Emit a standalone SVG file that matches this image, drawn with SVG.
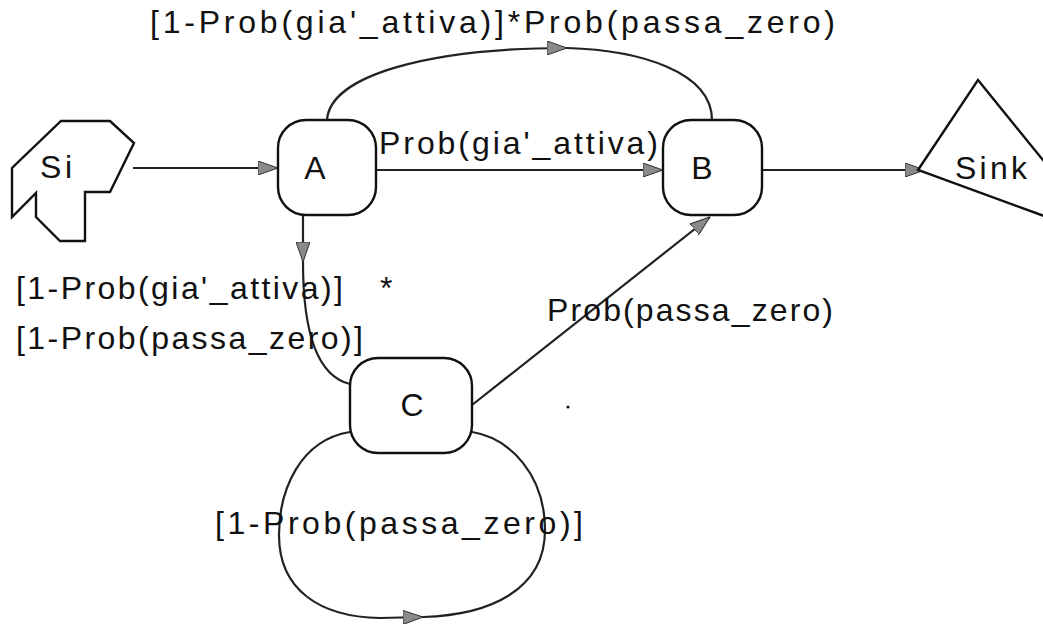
<svg xmlns="http://www.w3.org/2000/svg" width="1043" height="625" viewBox="0 0 1043 625">
<defs>
<style>
.n{fill:#fff;stroke:#111;stroke-width:2.4}
.c{fill:none;stroke:#222;stroke-width:2.2}
text{font-family:"Liberation Sans",Arial,sans-serif;font-size:32px;fill:#111}
</style>
<marker id="ah" viewBox="0 0 20 14" refX="20" refY="7" markerWidth="20" markerHeight="14" markerUnits="userSpaceOnUse" orient="auto">
<path d="M0,0 L20,7 L0,14 z" fill="#8a8a8a" stroke="#333" stroke-width="1"/>
</marker>
</defs>
<rect width="1043" height="625" fill="#fff"/>
<g id="connectors">
<path class="c" d="M133,168 L278,168" marker-end="url(#ah)"/>
<path class="c" d="M376,170 L663,170" marker-end="url(#ah)"/>
<path class="c" d="M327,120 C330,75 430,48 567,48" marker-end="url(#ah)"/>
<path class="c" d="M567,48 C640,50 712,72 712,120"/>
<path class="c" d="M762,170 L925,170" marker-end="url(#ah)"/>
<path class="c" d="M303,215 L303,262" marker-end="url(#ah)"/>
<path class="c" d="M303,262 C303,320 312,375 350,384"/>
<path class="c" d="M472,405 L710,217" marker-end="url(#ah)"/>
<path class="c" d="M350,432 C300,440 279,490 279,535 C279,590 320,617 380,618 L423,617" marker-end="url(#ah)"/>
<path class="c" d="M423,617 C490,615 545,590 545,530 C545,475 510,438 472,432"/>
</g>
<g id="Si">
<polygon class="n" points="61,121 110,121 134,143 110,192 85,192 85,241 60,241 36,217 36,193 12,217 12,168"/>
<text x="40" y="178" textLength="32" lengthAdjust="spacing">Si</text>
</g>
<g id="A">
<rect class="n" x="278" y="120" width="98" height="95" rx="28"/>
<text x="315" y="179" text-anchor="middle">A</text>
</g>
<g id="B">
<rect class="n" x="663" y="120" width="99" height="95" rx="28"/>
<text x="702" y="179" text-anchor="middle">B</text>
</g>
<g id="C">
<rect class="n" x="350" y="358" width="122" height="95" rx="28"/>
<text x="412" y="416" text-anchor="middle">C</text>
</g>
<g id="Sink">
<polygon class="n" points="978,80 1107,239 918,170" fill="none"/>
<text x="955" y="179" textLength="72" lengthAdjust="spacing">Sink</text>
</g>
<g id="labels">
<text x="150" y="33" textLength="685" lengthAdjust="spacing">[1-Prob(gia'_attiva)]*Prob(passa_zero)</text>
<text x="379" y="154" textLength="279" lengthAdjust="spacing">Prob(gia'_attiva)</text>
<text x="16" y="299" textLength="327" lengthAdjust="spacing">[1-Prob(gia'_attiva)]</text>
<text x="380" y="299">*</text>
<text x="16" y="349" textLength="347" lengthAdjust="spacing">[1-Prob(passa_zero)]</text>
<text x="547" y="321" textLength="286" lengthAdjust="spacing">Prob(passa_zero)</text>
<text x="215" y="534" textLength="368" lengthAdjust="spacing">[1-Prob(passa_zero)]</text>
<circle cx="568" cy="407" r="1.6" fill="#111"/>
</g>
</svg>
